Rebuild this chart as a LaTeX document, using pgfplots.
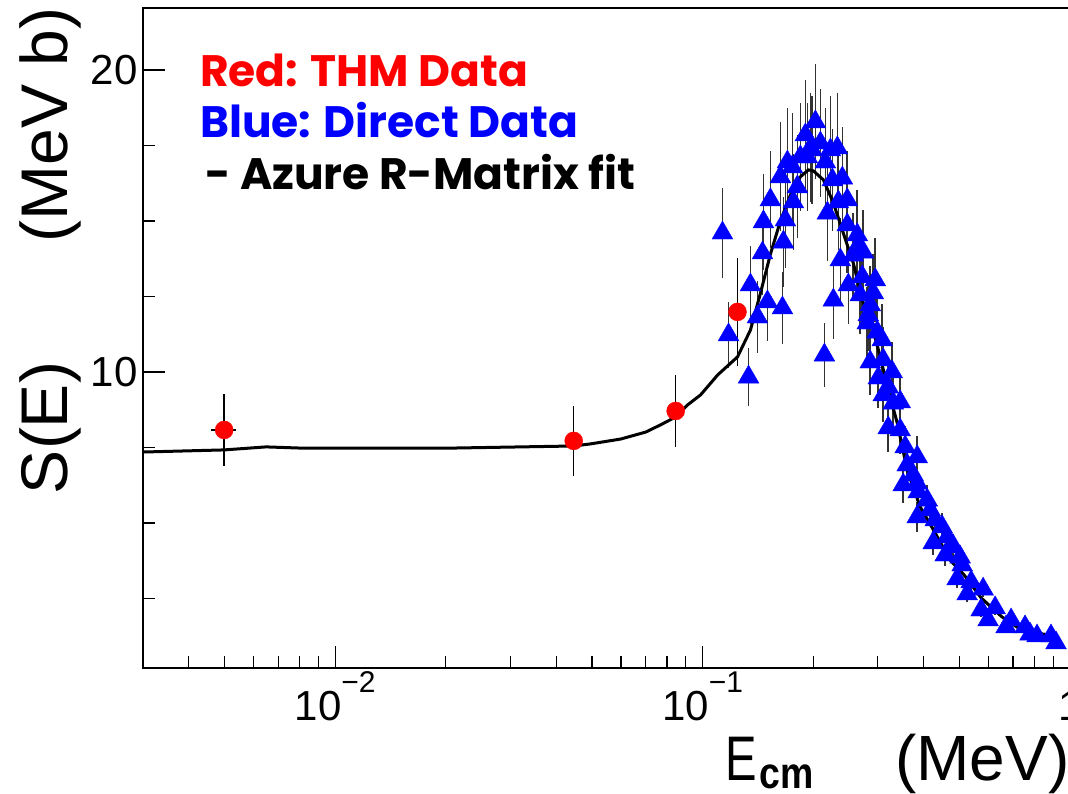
\documentclass[border=0pt]{standalone}
\usepackage{fontspec}
\setmainfont{Liberation Sans}
\newfontfamily\legendfont{Poppins}
\usepackage{graphicx}
\usepackage{pgfplots}
\pgfplotsset{compat=1.18}
\usepackage{pgfplotstable}

\pgfplotstableread{
x y ey
0.1133 14.60 1.50
0.1177 11.23 1.10
0.1334 9.83 0.95
0.1350 12.88 1.30
0.1411 11.82 1.20
0.1456 13.94 1.40
0.1465 14.97 1.60
0.1502 12.32 1.30
0.1530 15.70 1.60
0.1629 16.46 1.80
0.1650 12.12 1.20
0.1660 14.30 1.50
0.1681 15.03 1.60
0.1702 16.95 1.80
0.1756 16.79 1.80
0.1767 15.63 1.60
0.1812 16.13 1.70
0.1846 17.12 1.80
0.1905 17.85 1.80
0.1929 17.12 1.80
0.1966 17.42 1.80
0.1986 17.35 1.80
0.2028 18.28 1.90
0.2093 17.58 1.80
0.2146 10.56 1.05
0.2159 16.95 1.80
0.2187 15.26 1.60
0.2228 17.35 1.80
0.2256 16.36 1.70
0.2270 12.38 1.30
0.2327 17.42 1.80
0.2342 15.63 1.60
0.2371 13.71 1.40
0.2401 16.42 1.70
0.2477 14.87 1.60
0.2477 15.70 1.60
0.2493 12.88 1.30
0.2572 13.87 1.40
0.2637 14.54 1.50
0.2637 14.14 1.50
0.2687 12.55 1.30
0.2721 13.15 1.40
0.2738 13.97 1.40
0.2807 11.62 1.20
0.2825 11.89 1.20
0.2861 12.22 1.30
0.2861 10.33 1.10
0.2915 12.62 1.30
0.2952 13.05 1.40
0.2989 11.32 1.20
0.3008 9.80 1.00
0.3084 11.06 1.20
0.3103 10.40 1.10
0.3103 9.24 0.90
0.3202 9.50 0.90
0.3202 8.15 0.80
0.3283 10.00 1.00
0.3304 8.97 0.90
0.3451 9.01 0.90
0.3451 8.08 0.80
0.3517 6.26 0.60
0.3561 7.52 0.70
0.3606 6.92 0.60
0.3745 6.59 0.60
0.3839 7.19 0.70
0.3839 6.32 0.60
0.3839 5.20 0.50
0.3864 6.03 0.60
0.4087 5.76 0.50
0.4165 5.43 0.50
0.4244 4.34 0.40
0.4298 5.10 0.45
0.4490 4.87 0.45
0.4575 3.94 0.35
0.4633 4.54 0.40
0.4780 4.21 0.40
0.4809 4.24 0.40
0.4931 3.15 0.30
0.5025 3.87 0.35
0.5088 3.61 0.30
0.5250 2.65 0.25
0.5383 3.05 0.30
0.5731 2.12 0.22
0.5803 2.81 0.25
0.5987 1.79 0.20
0.6255 2.19 0.22
0.6701 1.56 0.18
0.6914 1.79 0.20
0.7546 1.56 0.18
0.7786 1.32 0.15
0.8134 1.26 0.15
0.8878 1.26 0.15
0.9162 1.03 0.12
}\bluedata

\pgfplotstableread{
x y ex ey
0.00499 8.08 0.0004 1.20
0.0446 7.72 0 1.15
0.0845 8.71 0 1.20
0.1245 11.99 0 1.80
}\reddata

\pgfplotstableread{
x y
0.0030 7.35
0.00499 7.42
0.00649 7.52
0.00808 7.48
0.02066 7.48
0.04461 7.55
0.04963 7.62
0.05986 7.78
0.07002 8.01
0.07688 8.25
0.08446 8.51
0.09103 8.91
0.09875 9.24
0.1071 9.74
0.1099 9.90
0.1245 10.50
0.1350 11.39
0.1437 12.60
0.1530 13.90
0.1629 15.00
0.1734 15.86
0.1846 16.46
0.1941 16.69
0.2002 16.66
0.2132 16.36
0.2270 15.60
0.2416 14.60
0.2572 13.61
0.2721 12.38
0.2897 11.49
0.3046 10.50
0.3202 9.40
0.3388 8.31
0.3606 6.75
0.3913 5.53
0.4298 4.67
0.4720 3.77
0.5152 3.28
0.5731 2.52
0.6533 1.89
0.7454 1.42
0.8500 1.32
0.9048 1.09
}\fitdata

\newcommand{\expsup}[1]{\raisebox{28pt}{\fontsize{30}{30}\selectfont #1}}

\begin{document}
\begin{tikzpicture}
\useasboundingbox (-143pt,-125pt) rectangle (925pt,668pt);
\begin{axis}[
  at={(0pt,0pt)}, anchor=south west,
  scale only axis, width=927pt, height=660pt,
  xmode=log, xmin=0.003, xmax=1,
  ymin=0.2, ymax=22.05,
  axis line style={black, line width=1.5pt},
  tick align=inside,
  xtick pos=bottom, ytick pos=left,
  major tick length=22pt, minor tick length=12pt,
  every tick/.style={black, line width=1.2pt},
  xtick={0.01,0.1,1},
  xticklabels={10\expsup{−2}, 10\expsup{−1}, 1},
  minor xtick={0.004,0.005,0.006,0.007,0.008,0.009,0.02,0.03,0.04,0.05,0.06,0.07,0.08,0.09,0.2,0.3,0.4,0.5,0.6,0.7,0.8,0.9},
  ytick={10,20}, yticklabels={10,20},
  minor ytick={2.5,5,7.5,12.5,15,17.5},
  xticklabel style={font=\fontsize{42}{42}\selectfont, anchor=base, yshift=-52pt, inner sep=0pt},
  yticklabel style={font=\fontsize{42}{42}\selectfont, anchor=east, xshift=-2pt},
  clip=false,
]
\addplot[only marks, mark=triangle*, mark size=12pt, color=blue,
  error bars/.cd, y dir=both, y explicit,
  error bar style={line width=1.6pt, black!80}, error mark=none]
  table[x=x, y=y, y error=ey] {\bluedata};
\addplot[black, line width=3pt, no marks] table[x=x, y=y] {\fitdata};
\addplot[only marks, mark=*, mark size=9pt, color=red,
  error bars/.cd, x dir=both, x explicit, y dir=both, y explicit,
  error bar style={line width=1.5pt, black}, error mark=none]
  table[x=x, y=y, x error=ex, y error=ey] {\reddata};
\end{axis}
\node[anchor=west, inner sep=0pt, text=red, font=\legendfont\bfseries\fontsize{44}{44}\selectfont] at (57pt,598pt) {Red: THM Data};
\node[anchor=west, inner sep=0pt, text=blue, font=\legendfont\bfseries\fontsize{44}{44}\selectfont] at (57pt,548pt) {Blue: Direct Data};
\node[anchor=west, inner sep=0pt, text=black, font=\legendfont\bfseries\fontsize{44}{44}\selectfont] at (62pt,496pt) {- Azure R-Matrix fit};
\node[rotate=90, font=\fontsize{66}{66}\selectfont] at (-93pt,240pt) {S(E)};
\node[rotate=90, font=\fontsize{66}{66}\selectfont] at (-93pt,543pt) {(MeV b)};
\node[anchor=base west, inner sep=0pt, font=\fontsize{63}{63}\selectfont] at (582pt,-112pt) {\scalebox{0.75}[1]{E}\kern3pt\raisebox{-8pt}{\fontsize{44}{44}\selectfont\bfseries\scalebox{0.85}[1]{cm}}};
\node[anchor=base west, inner sep=0pt, font=\fontsize{64}{64}\selectfont] at (752pt,-112pt) {(MeV)};
\end{tikzpicture}
\end{document}
